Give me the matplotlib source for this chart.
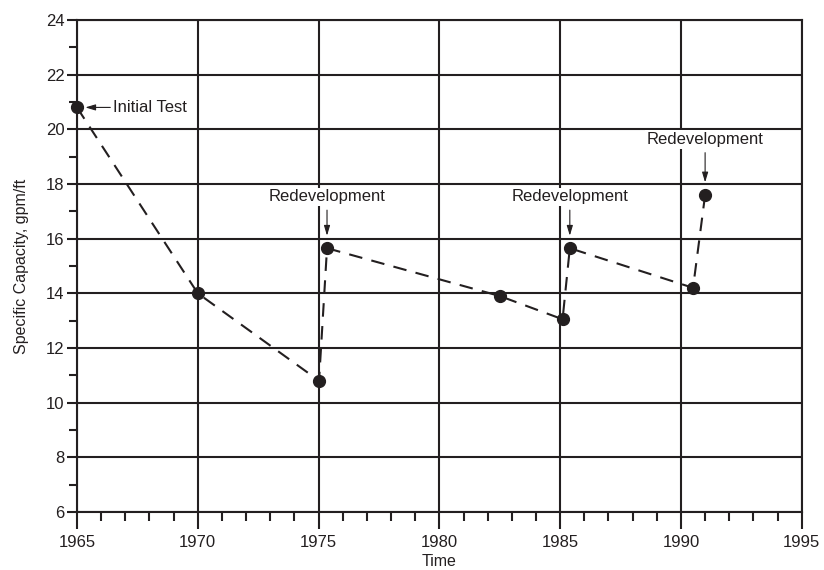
import matplotlib.pyplot as plt
from matplotlib.ticker import MultipleLocator

plt.rcParams['font.family'] = ['Liberation Sans', 'DejaVu Sans']

# Specific capacity readings over time
years = [1965.0, 1970.0, 1975.02, 1975.35, 1982.5, 1985.1, 1985.4, 1990.5, 1991.0]
capacity = [20.8, 14.0, 10.8, 15.65, 13.9, 13.05, 15.65, 14.2, 17.6]

# annotated points: index into the series, label, text offset (points)
redevelop_idx = [3, 6, 8]
redevelop_offset = [37, 37, 40]

ink = '#231f20'

fig = plt.figure(figsize=(8.24, 5.70), dpi=100)
ax = fig.add_axes([0.0934, 0.1018, 0.8796, 0.8632])

ax.plot(years, capacity, color=ink, lw=1.5, ls=(0, (6.5, 4.5)), zorder=3)
ax.plot(years, capacity, 'o', color=ink, ms=8.5, clip_on=False, zorder=4)

ax.set_xlim(1965, 1995)
ax.set_ylim(6, 24)
ax.xaxis.set_major_locator(MultipleLocator(5))
ax.xaxis.set_minor_locator(MultipleLocator(1))
ax.yaxis.set_major_locator(MultipleLocator(2))
ax.yaxis.set_minor_locator(MultipleLocator(1))

ax.grid(True, which='major', color=ink, lw=1.5)
for s in ax.spines.values():
    s.set_color(ink)
    s.set_linewidth(1.5)

ax.tick_params(axis='x', which='major', length=12, width=1.5, color=ink,
               labelsize=12, labelcolor=ink, pad=4.5)
ax.tick_params(axis='x', which='minor', length=6.5, width=1.5, color=ink)
ax.tick_params(axis='y', which='major', length=7, width=1.5, color=ink,
               labelsize=12, labelcolor=ink, pad=2)
ax.tick_params(axis='y', which='minor', length=6, width=1.5, color=ink)

ax.set_xlabel('Time', fontsize=11.5, color=ink, labelpad=3)
ax.set_ylabel('Specific Capacity, gpm/ft', fontsize=11.5, color=ink, labelpad=12)

arrow = dict(arrowstyle='-|>,head_length=0.5,head_width=0.15', color=ink,
             lw=0.8, shrinkA=2, shrinkB=9)

ax.annotate('Initial Test', xy=(years[0], capacity[0]), xytext=(26, 0),
            textcoords='offset points', ha='left', va='center', fontsize=12,
            color=ink, annotation_clip=False,
            arrowprops=dict(arrow, relpos=(0, 0.5), shrinkA=0, shrinkB=6))

for i, off in zip(redevelop_idx, redevelop_offset):
    ax.annotate('Redevelopment', xy=(years[i], capacity[i]), xytext=(0, off),
                textcoords='offset points', ha='center', va='center',
                fontsize=12, color=ink,
                bbox=dict(boxstyle='square,pad=0.1', fc='white', ec='none'),
                arrowprops=dict(arrow, shrinkA=3, shrinkB=9))

fig.savefig('out.png', dpi=100)
